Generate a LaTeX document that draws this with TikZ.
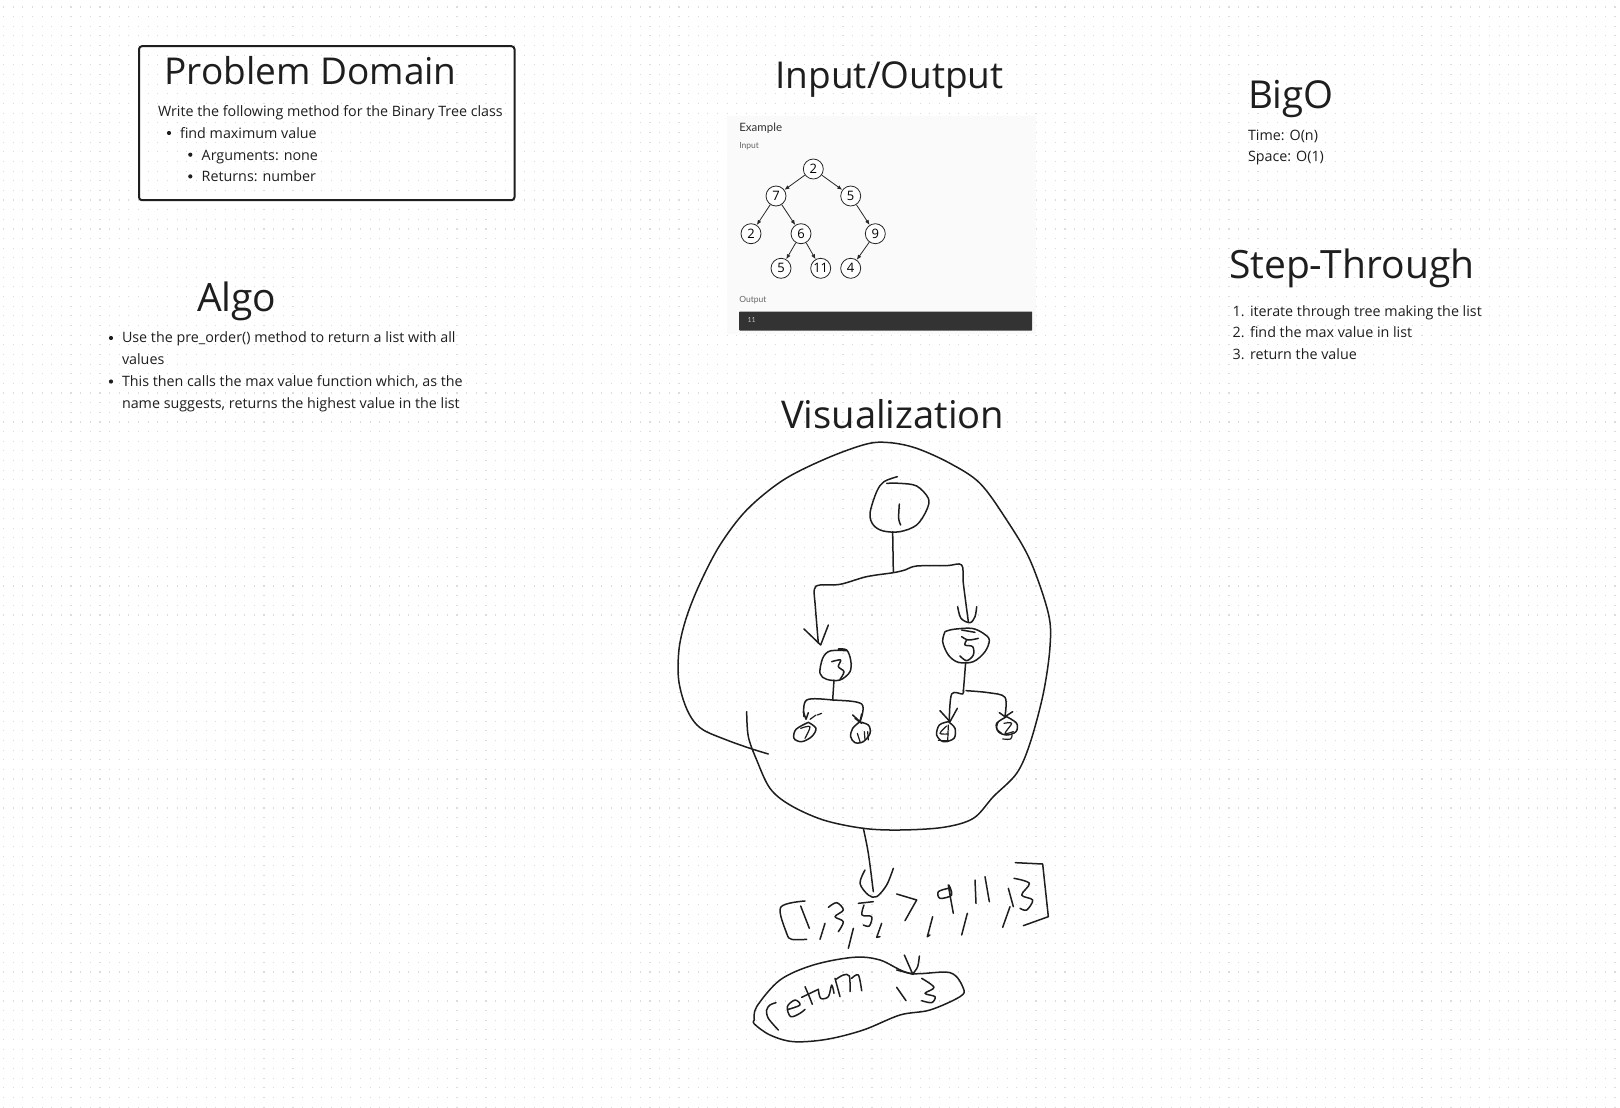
\documentclass[tikz,border=0pt]{standalone}
\usepackage{fontspec}
\setmainfont{Open Sans}
\newfontfamily\exfont{Lato}
\usetikzlibrary{arrows.meta}
\definecolor{ink}{HTML}{1E1E1E}
\definecolor{pen}{HTML}{1E1E1E}
\definecolor{griddot}{HTML}{DCDCDC}
\definecolor{panelbg}{HTML}{FAFAFA}
\definecolor{barbg}{HTML}{333333}
\tikzset{
  txt/.style={anchor=base west,inner sep=0pt,outer sep=0pt,text=ink},
  title/.style={txt,font=\fontsize{#1}{#1}\selectfont},
  body/.style={txt,font=\fontsize{14.3}{14.3}\selectfont},
  ex/.style={txt,font=\exfont\fontsize{8.5}{8.5}\selectfont,text=black!60},
  tn/.style={circle,draw=black!85,line width=.8pt,minimum size=20pt,inner sep=0pt,fill=white,font=\fontsize{13}{13}\selectfont},
  te/.style={line width=.8pt,draw=black!85,-{Latex[length=5pt,width=4pt]}},
  sk/.style={line width=1.5pt,draw=pen,line cap=round,line join=round},
  skthin/.style={line width=1.2pt,draw=pen,line cap=round,line join=round},
}
\newcommand{\skc}[1]{plot[smooth,tension=.55] coordinates {#1}}
\begin{document}
\begin{tikzpicture}[x=1pt,y=-1pt]
\useasboundingbox (0,0) rectangle (1620,1108);
\fill[white] (0,0) rectangle (1620,1108);
% dotted grid
\foreach \i in {0,...,114}{
  \draw[griddot,line width=1.1pt,dash pattern=on 1.1pt off 8.55pt] (2.9,{7+9.65*\i}) -- (1620,{7+9.65*\i});
}
% Problem domain
\node[draw=ink,line width=2pt,rounded corners=3pt,minimum width=375.5pt,minimum height=154pt,inner sep=0pt,anchor=north west] (pdbox) at (138,45.2) {};
\node[title=37] (pdt) at (164.5,84.3) {Problem Domain};
\node[body] (pd1) at (158,116.7) {Write the following method for the Binary Tree class};
\fill[ink] (169,133) circle (2.1pt);
\node[body] (pd2) at (180,138.3) {find maximum value};
\fill[ink] (190.3,154.7) circle (2.1pt);
\node[body] (pd3) at (201.7,160) {Arguments: none};
\fill[ink] (190.3,176.4) circle (2.1pt);
\node[body] (pd4) at (201.7,181.7) {Returns: number};
% Algo
\node[title=39] (algot) at (197,311.5) {Algo};
\fill[ink] (111,338) circle (2.1pt);
\node[body] (al1) at (122,342.7) {Use the pre\_order() method to return a list with all};
\node[body] (al2) at (122,364.7) {values};
\fill[ink] (111,381.5) circle (2.1pt);
\node[body] (al3) at (122,386.3) {This then calls the max value function which, as the};
\node[body] (al4) at (122,408) {name suggests, returns the highest value in the list};
% BigO
\node[title=38.5] (bigt) at (1248,108.5) {BigO};
\node[body] (big1) at (1248,140) {Time: O(n)};
\node[body] (big2) at (1248,161.7) {Space: O(1)};
% Step-through
\node[title=39] (stt) at (1229,278.2) {Step-Through};
\node[body] (stn1) at (1232.7,316) {1.};
\node[body] (st1) at (1250,316) {iterate through tree making the list};
\node[body] (stn2) at (1232.7,337.7) {2.};
\node[body] (st2) at (1250,337.7) {find the max value in list};
\node[body] (stn3) at (1232.7,359.3) {3.};
\node[body] (st3) at (1250,359.3) {return the value};
% Input/Output
\node[title=37] (iot) at (775.5,88.3) {Input/Output};
\node[fill=panelbg,minimum width=309.3pt,minimum height=218pt,inner sep=0pt,anchor=north west] (panel) at (726.7,116) {};
\node[ex,font=\exfont\fontsize{11.5}{11.5}\selectfont,text=black!80] (ext) at (739.3,131.7) {Example};
\node[ex] (exi) at (739.3,148.3) {Input};
\node[ex] (exo) at (739.3,302.3) {Output};
\node[fill=barbg,minimum width=293pt,minimum height=19pt,inner sep=0pt,anchor=north west,rounded corners=.7pt] (bar) at (739,311.3) {};
\node[txt,font=\exfont\fontsize{7}{7}\selectfont,text=white!75!black,anchor=west] (barv) at (747.5,320) {11};
\node[tn] (a) at (813.3,169) {2};
\node[tn] (b) at (776,196) {7};
\node[tn] (c) at (850.7,196) {5};
\node[tn] (d) at (751,233.7) {2};
\node[tn] (e) at (801,233.7) {6};
\node[tn] (f) at (875.3,233.7) {9};
\node[tn] (g) at (781,268.3) {5};
\node[tn] (h) at (820.7,268.3) {11};
\node[tn] (i) at (850.7,268.3) {4};
\draw[te] (a) -- (b);
\draw[te] (a) -- (c);
\draw[te] (b) -- (d);
\draw[te] (b) -- (e);
\draw[te] (c) -- (f);
\draw[te] (e) -- (g);
\draw[te] (e) -- (h);
\draw[te] (f) -- (i);
% Visualization
\node[title=38.2] (vist) at (781,428.5) {Visualization};
% sketch: tree
\begin{scope}[shift={(660,430)},x=.33333pt,y=-.33333pt]
\draw[sk] \skc{(325,972)(270,955)(200,930)(130,900)(95,865)(70,810)(55,740)(58,650)(80,560)(120,460)(180,345)(260,240)(370,150)(500,85)(620,42)(690,38)(770,55)(870,100)(960,160)(1040,270)(1110,390)(1165,550)(1170,650)(1150,790)(1110,940)(1070,1030)(1000,1100)(940,1165)(850,1192)(720,1200)(610,1195)(490,1170)(390,1125)(330,1075)(290,990)(265,920)(260,845)};
% root
\draw[sk] \skc{(712,140)(672,155)(650,185)(630,250)(640,285)(670,303)(720,305)(770,285)(800,240)(805,205)(770,168)(720,160)(680,160)};
\draw[sk] \skc{(718,222)(716,265)(722,285)};
\draw[sk] (698,305) -- (700,425);
\draw[sk] \skc{(925,575)(910,460)(905,405)(860,407)(770,408)(735,420)(700,428)(620,440)(540,463)(480,465)(463,478)(466,530)(475,640)};
\draw[sk] (432,597) -- (482,645) -- (505,585);
\draw[sk] \skc{(893,530)(903,565)(930,578)(945,560)(950,530)};
% node 3
\draw[sk] \skc{(535,657)(560,660)(572,690)(570,725)(540,750)(500,748)(480,730)(488,685)(510,663)(560,662)};
\draw[sk] \skc{(515,695)(542,690)(535,710)(552,725)(540,748)};
\draw[sk] (522,750) -- (518,810);
\end{scope}
% sketch: node 5
\begin{scope}[shift={(930,620)},x=.33333pt,y=-.33333pt]
\draw[sk] \skc{(45,35)(38,65)(55,105)(85,127)(130,125)(165,95)(178,60)(160,40)(125,25)(70,28)(45,35)};
\draw[sk] (95,30) -- (135,37);
\draw[sk] \skc{(95,50)(115,60)(145,55)};
\draw[sk] \skc{(110,60)(105,75)(128,80)(130,105)(110,122)(90,108)};
\draw[sk] (107,127) -- (100,215);
\end{scope}
% sketch: bottom row of the tree
\begin{scope}[shift={(780,690)},x=.33333pt,y=-.33333pt]
\draw[sk] \skc{(72,80)(80,30)(160,30)(245,42)(240,95)};
\draw[sk] (70,65) -- (78,88) -- (85,68);
\draw[skthin] (90,88) -- (108,75);
\draw[skthin] (112,75) -- (125,70);
\draw[sk] (218,75) -- (240,95) -- (245,72);
\draw[sk] (225,85) -- (245,100);
\draw[sk] \skc{(85,97)(108,115)(95,140)(65,155)(42,145)(48,118)(85,97)};
\draw[skthin] \skc{(62,115)(90,110)(75,145)};
\draw[sk] \skc{(235,95)(265,105)(270,130)(250,155)(225,158)(212,140)(218,115)(240,95)};
\draw[skthin] (232,130) -- (240,155);
\draw[skthin] (253,125) -- (255,150);
\draw[skthin] (263,125) -- (265,150);
\draw[sk] \skc{(550,0)(548,12)(515,12)(508,88)};
\draw[sk] (480,62) -- (510,95) -- (532,55);
\draw[sk] \skc{(505,95)(525,115)(522,145)(490,155)(470,135)(478,105)(505,95)};
\draw[skthin] \skc{(500,108)(480,130)(505,132)};
\draw[skthin] (505,105) -- (503,155);
\draw[skthin] (475,152) -- (505,152);
\draw[sk] \skc{(558,2)(625,8)(675,22)(675,78)};
\draw[sk] (658,68) -- (675,80) -- (698,65);
\draw[sk] \skc{(680,80)(710,100)(708,125)(680,135)(655,125)(650,100)(680,80)};
\draw[skthin] \skc{(655,95)(650,115)(665,130)};
\draw[skthin] \skc{(672,100)(695,100)(675,130)(700,125)};
\draw[skthin] \skc{(668,147)(692,147)(696,135)};
\end{scope}
% sketch: list and return
\begin{scope}[shift={(740,820)},x=.33333pt,y=-.33333pt]
\draw[sk] \skc{(370,25)(385,100)(400,215)};
\draw[sk] \skc{(375,150)(360,190)(385,225)(410,230)(440,195)(460,145)};
\draw[sk] \skc{(195,243)(122,262)(140,340)(155,358)(200,358)};
\draw[sk] (182,258) -- (208,325);
\draw[sk] (255,310) -- (240,358);
\draw[sk] \skc{(265,262)(290,248)(310,270)(285,290)(310,305)(295,335)};
\draw[sk] (340,325) -- (325,385);
\draw[sk] (355,250) -- (400,245);
\draw[sk] \skc{(372,255)(366,285)(395,290)(388,318)(370,315)};
\draw[sk] (425,310) -- (410,352) -- (420,350);
\draw[sk] (470,222) -- (530,240) -- (495,302);
\draw[sk] (578,290) -- (562,350) -- (570,345);
\draw[sk] \skc{(625,205)(595,215)(600,235)(635,225)(625,195)(640,280)};
\draw[sk] (682,280) -- (665,345);
\draw[sk] (705,180) -- (708,250);
\draw[sk] (735,170) -- (748,245);
\draw[sk] (810,260) -- (788,322);
\draw[sk] (805,205) -- (820,260);
\draw[sk] \skc{(822,175)(868,190)(845,225)(878,240)(860,270)(840,265)};
\draw[sk] (826,128) -- (908,132) -- (925,290) -- (850,317);
\draw[sk] \skc{(43,600)(50,560)(120,480)(220,435)(340,412)(420,420)(510,460)(630,458)(670,505)(660,530)(570,570)(480,585)(370,630)(260,658)(160,665)(90,645)(43,612)(43,600)};
\end{scope}
\begin{scope}[shift={(750,950)},x=.33333pt,y=-.33333pt]
% arrow into the blob
\draw[sk] (463,15) -- (488,72);
\draw[sk] \skc{(488,72)(503,50)(508,18)};
\draw[sk] (440,60) -- (490,73);
% return
\draw[sk] \skc{(85,240)(55,205)(50,180)(60,165)(78,158)};
\draw[sk] \skc{(115,178)(150,165)(135,150)(112,170)(122,200)(150,190)(165,178)};
\draw[sk] \skc{(165,110)(178,140)(187,163)};
\draw[sk] (155,142) -- (205,118);
\draw[sk] \skc{(205,118)(212,145)(235,140)(245,105)(252,130)};
\draw[sk] (255,85) -- (270,140);
\draw[sk] \skc{(258,88)(280,75)(298,78)(300,125)};
\draw[sk] \skc{(305,85)(325,75)(335,122)};
% 13
\draw[sk] (440,112) -- (468,152);
\draw[sk] \skc{(515,85)(552,112)(525,130)(555,140)(545,158)(515,152)};
\end{scope}
\end{tikzpicture}
\end{document}
